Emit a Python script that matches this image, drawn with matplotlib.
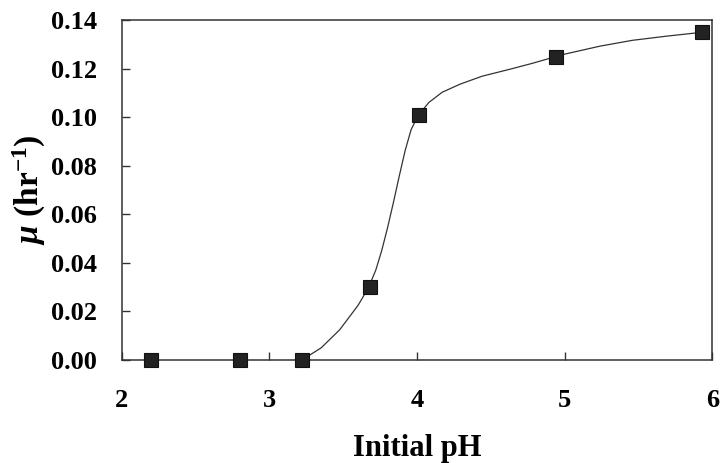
import numpy as np
import matplotlib
matplotlib.use('Agg')
import matplotlib.pyplot as plt

# measured points
ph = [2.2, 2.8, 3.22, 3.68, 4.01, 4.94, 5.93]
mu = [0.0, 0.0, 0.0, 0.030, 0.101, 0.1250, 0.135]

# fitted curve
curve_ph = [3.22, 3.35, 3.475, 3.6, 3.67, 3.72, 3.76, 3.80, 3.84, 3.88, 3.92,
            3.96, 4.01, 4.08, 4.17, 4.29, 4.44, 4.63, 4.78, 4.94, 5.0, 5.24,
            5.46, 5.69, 5.93]
curve_mu = [0.0, 0.005, 0.0124, 0.0225, 0.0297, 0.0370, 0.0450, 0.0545, 0.065,
            0.0760, 0.0865, 0.0950, 0.101, 0.1061, 0.1103, 0.1136, 0.1169,
            0.1198, 0.1222, 0.1250, 0.126, 0.1293, 0.1317, 0.1334, 0.135]

yticks = [0.00, 0.02, 0.04, 0.06, 0.08, 0.10, 0.12, 0.14]
xticks = [2, 3, 4, 5, 6]

plt.rcParams['font.family'] = 'Liberation Serif'
plt.rcParams['font.weight'] = 'bold'
plt.rcParams['mathtext.fontset'] = 'custom'
plt.rcParams['mathtext.rm'] = 'Liberation Serif:bold'
plt.rcParams['mathtext.it'] = 'Liberation Serif:italic:bold'
plt.rcParams['mathtext.bf'] = 'Liberation Serif:bold'

fig = plt.figure(figsize=(7.21, 4.63), dpi=100)
ax = fig.add_axes([0.169, 0.2225, 0.819, 0.734])

ax.plot(curve_ph, curve_mu, color='#333333', lw=0.9, zorder=2)
ax.plot(ph, mu, 's', ms=10, color='#222222', mec='#111111', mew=0.8,
        clip_on=False, zorder=3)

ax.set_xlim(2, 6)
ax.set_ylim(0, 0.14)
ax.set_xticks(xticks)
ax.set_yticks(yticks)
ax.set_yticklabels([f'{v:.2f}' for v in yticks])
ax.tick_params(direction='in', length=6, width=1, color='#333333',
               labelsize=19, top=False, right=False)
ax.tick_params(axis='y', pad=18)
ax.tick_params(axis='x', pad=21)
for s in ax.spines.values():
    s.set_color('#333333')
    s.set_linewidth(1.1)

ax.set_xlabel('Initial pH', fontsize=22, fontweight='bold', labelpad=16)
ax.set_ylabel(r'$\mu$ (hr$^{-1}$)', fontsize=24, fontweight='bold', labelpad=2)

fig.savefig('out.png', dpi=100)
